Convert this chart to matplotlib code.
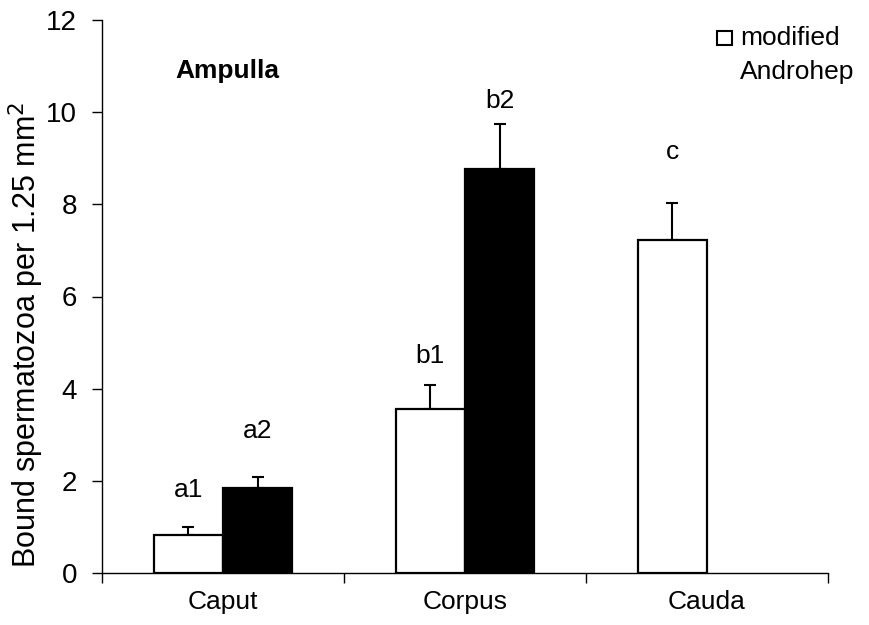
import matplotlib.pyplot as plt
import numpy as np
from matplotlib.patches import Rectangle

plt.rcParams["font.family"] = ["Liberation Sans", "DejaVu Sans"]

regions = ["Caput", "Corpus", "Cauda"]
modified = [0.83, 3.56, 7.23]
modified_err = [0.17, 0.53, 0.80]
androhep = [1.84, 8.77, np.nan]
androhep_err = [0.24, 0.97, np.nan]
modified_labels = ["a1", "b1", "c"]
androhep_labels = ["a2", "b2", ""]

# letters were placed by hand, so the gap above each error bar differs
modified_gap = [0.55, 0.35, 0.85]
androhep_gap = [0.75, 0.25, 0.0]

fig = plt.figure(figsize=(8.7, 6.25), dpi=100)
ax = fig.add_axes([0.1172, 0.0832, 0.8345, 0.8848])

x = np.arange(len(regions))
w = 0.287
bar_kw = dict(width=w, edgecolor="black", linewidth=1.6, zorder=2)
err_kw = dict(ecolor="black", elinewidth=1.5, capsize=4, capthick=1.5)

ax.bar(x - w / 2, modified, color="white", **bar_kw)
ax.bar(x + w / 2, androhep, color="black", **bar_kw)
ax.errorbar(x - w / 2, modified, yerr=[np.zeros(3), modified_err], fmt="none", zorder=1, **err_kw)
ax.errorbar(x + w / 2, androhep, yerr=[np.zeros(3), androhep_err], fmt="none", zorder=1, **err_kw)

for xi, v, e, g, lab in zip(x - w / 2, modified, modified_err, modified_gap, modified_labels):
    ax.text(xi, v + e + g, lab, ha="center", va="bottom", fontsize=19)
for xi, v, e, g, lab in zip(x + w / 2, androhep, androhep_err, androhep_gap, androhep_labels):
    if lab:
        ax.text(xi, v + e + g, lab, ha="center", va="bottom", fontsize=19)

ax.set_xlim(-0.5, 2.5)
ax.set_ylim(0, 12)
ax.set_yticks(range(0, 13, 2))
ax.set_xticks(x, regions)
ax.set_xticks(np.arange(-0.5, 3, 1), minor=True)
ax.tick_params(axis="x", which="major", length=0, pad=12, labelsize=19)
ax.tick_params(axis="x", which="minor", length=7, width=1, direction="out")
ax.tick_params(axis="y", length=7, width=1, direction="out", labelsize=20, pad=11)
ax.set_ylabel("Bound spermatozoa per 1.25 mm$^2$", fontsize=22)
ax.yaxis.set_label_coords(-0.077, 0.43)
for side in ("top", "right"):
    ax.spines[side].set_visible(False)
for side in ("left", "bottom"):
    ax.spines[side].set_linewidth(1.0)

ax.text(0.101, 0.908, "Ampulla", transform=ax.transAxes, fontsize=19, fontweight="bold",
        ha="left", va="center")

# legend entry drawn by hand: square marker beside a two-line label
fig.patches.append(Rectangle((717 / 870, 1 - 45 / 625), 15 / 870, 14 / 625,
                             transform=fig.transFigure, facecolor="white",
                             edgecolor="black", linewidth=1.5))
fig.text(740 / 870, 1 - 38 / 625, "modified", fontsize=19, ha="left", va="center")
fig.text(740 / 870, 1 - 72 / 625, "Androhep", fontsize=19, ha="left", va="center")

fig.savefig("out.png", dpi=100)
